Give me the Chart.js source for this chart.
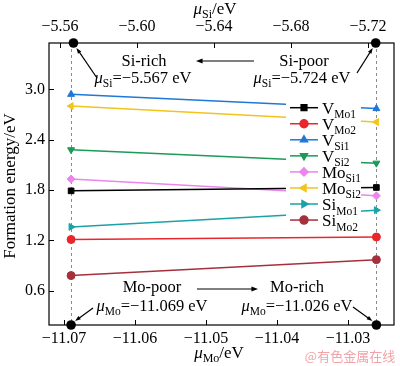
<!DOCTYPE html>
<html>
<head>
<meta charset="utf-8">
<script src="https://cdn.jsdelivr.net/npm/chart.js@4.4.0/dist/chart.umd.min.js"></script>
<style>
  html, body { margin: 0; padding: 0; background: #fff; }
  canvas { display: block; }
</style>
</head>
<body>
<canvas id="feChart" width="400" height="366"></canvas>
<script>
// chemical potential limits (x positions of both end points)
const muMo = [-11.069, -11.026];
const muSi = [-5.567, -5.724];

// formation energies, left end (Mo-poor / Si-rich) -> right end (Mo-rich / Si-poor)
const vMo1 = [1.79, 1.83];
const vMo2 = [1.21, 1.24];
const vSi1 = [2.94, 2.77];
const vSi2 = [2.28, 2.12];
const moSi1 = [1.93, 1.73];
const moSi2 = [2.80, 2.61];
const siMo1 = [1.36, 1.56];
const siMo2 = [0.78, 0.97];

// tick labels
const xTicks = [-11.07, -11.06, -11.05, -11.04, -11.03];
const topTicks = [-5.56, -5.60, -5.64, -5.68, -5.72];
const yTicks = [0.6, 1.2, 1.8, 2.4, 3.0];

const SERIF = '"Liberation Serif", "DejaVu Serif", serif';

const seriesDefs = [
    { data: vMo1,  name: ['V', 'Mo1'],  color: '#000000', style: 'rect',     rot: 0 },
    { data: vMo2,  name: ['V', 'Mo2'],  color: '#e8262b', style: 'circle',   rot: 0 },
    { data: vSi1,  name: ['V', 'Si1'],  color: '#1f78d8', style: 'triangle', rot: 0 },
    { data: vSi2,  name: ['V', 'Si2'],  color: '#1c9a58', style: 'triangle', rot: 180 },
    { data: moSi1, name: ['Mo', 'Si1'], color: '#ea86ec', style: 'rectRot',  rot: 0 },
    { data: moSi2, name: ['Mo', 'Si2'], color: '#f3c41a', style: 'triangle', rot: -90 },
    { data: siMo1, name: ['Si', 'Mo1'], color: '#1aa2a6', style: 'triangle', rot: 90 },
    { data: siMo2, name: ['Si', 'Mo2'], color: '#a5303c', style: 'circle',   rot: 0 }
];

const datasets = seriesDefs.map(s => ({
    label: s.name.join('_'),
    data: s.data.map((v, i) => ({ x: muMo[i], y: v })),
    borderColor: s.color,
    backgroundColor: s.color,
    borderWidth: 1.5,
    pointStyle: s.style,
    pointRotation: s.rot,
    pointRadius: 4,
    pointBorderWidth: 1,
    tension: 0
}));

/**
 * Draw a run of text pieces: [text, size, italic, dy]
 */
function drawRich(ctx, parts, x, y, align) {
    let total = 0;
    parts.forEach(p => {
        ctx.font = (p[2] ? 'italic ' : '') + p[1] + 'px ' + SERIF;
        total += ctx.measureText(p[0]).width;
    });
    let cx = align === 'center' ? x - total / 2 : (align === 'right' ? x - total : x);
    ctx.textAlign = 'left';
    ctx.textBaseline = 'alphabetic';
    parts.forEach(p => {
        ctx.font = (p[2] ? 'italic ' : '') + p[1] + 'px ' + SERIF;
        ctx.fillText(p[0], cx, y + (p[3] || 0));
        cx += ctx.measureText(p[0]).width;
    });
}

function arrow(ctx, x0, y0, x1, y1, head) {
    const a = Math.atan2(y1 - y0, x1 - x0);
    ctx.beginPath();
    ctx.moveTo(x0, y0);
    ctx.lineTo(x1 - Math.cos(a) * head * 0.8, y1 - Math.sin(a) * head * 0.8);
    ctx.stroke();
    ctx.beginPath();
    ctx.moveTo(x1, y1);
    ctx.lineTo(x1 - head * Math.cos(a - 0.35), y1 - head * Math.sin(a - 0.35));
    ctx.lineTo(x1 - head * Math.cos(a + 0.35), y1 - head * Math.sin(a + 0.35));
    ctx.closePath();
    ctx.fill();
}

const decoPlugin = {
    id: 'deco',
    beforeDatasetsDraw(chart) {
        const ctx = chart.ctx;
        const a = chart.chartArea;
        const xs = chart.scales.x;
        ctx.save();
        ctx.strokeStyle = '#8a8a8a';
        ctx.lineWidth = 1;
        ctx.setLineDash([3, 3]);
        muMo.forEach(v => {
            const px = Math.round(xs.getPixelForValue(v)) + 0.5;
            ctx.beginPath();
            ctx.moveTo(px, a.top);
            ctx.lineTo(px, a.bottom);
            ctx.stroke();
        });
        ctx.restore();
    },
    afterDatasetsDraw(chart) {
        const ctx = chart.ctx;
        const a = chart.chartArea;
        const xs = chart.scales.x;
        const xt = chart.scales.x2;
        const ys = chart.scales.y;
        ctx.save();

        // legend box
        ctx.fillStyle = '#ffffff';
        ctx.fillRect(286, 99, 75, 130);
        seriesDefs.forEach((s, i) => {
            const ly = 107.7 + i * 16.05;
            ctx.strokeStyle = s.color;
            ctx.fillStyle = s.color;
            ctx.lineWidth = 1.5;
            ctx.beginPath();
            ctx.moveTo(290, ly);
            ctx.lineTo(318, ly);
            ctx.stroke();
            Chart.helpers.drawPoint(ctx, { pointStyle: s.style, radius: 4, rotation: s.rot, borderWidth: 1 }, 304, ly);
            ctx.fillStyle = '#000';
            drawRich(ctx, [[s.name[0], 17, false, 0], [s.name[1], 11.5, false, 4.5]], 322, ly + 6, 'left');
        });

        // frame
        ctx.strokeStyle = '#000';
        ctx.lineWidth = 1.2;
        ctx.strokeRect(a.left, a.top, a.right - a.left, a.bottom - a.top);

        // inward ticks
        ctx.lineWidth = 1;
        ctx.beginPath();
        xTicks.forEach(v => {
            const px = Math.round(xs.getPixelForValue(v)) + 0.5;
            ctx.moveTo(px, a.bottom); ctx.lineTo(px, a.bottom - 5);
        });
        topTicks.forEach(v => {
            const px = Math.round(xt.getPixelForValue(v)) + 0.5;
            ctx.moveTo(px, a.top); ctx.lineTo(px, a.top + 5);
        });
        yTicks.forEach(v => {
            const py = Math.round(ys.getPixelForValue(v)) + 0.5;
            ctx.moveTo(a.left, py); ctx.lineTo(a.left + 5, py);
        });
        ctx.stroke();

        // limit dots
        ctx.fillStyle = '#000';
        const dots = [
            [xt.getPixelForValue(muSi[0]), a.top],
            [xt.getPixelForValue(muSi[1]), a.top],
            [xs.getPixelForValue(muMo[0]), a.bottom],
            [xs.getPixelForValue(muMo[1]), a.bottom]
        ];
        dots.forEach(d => {
            ctx.beginPath();
            ctx.arc(d[0], d[1], 4.8, 0, Math.PI * 2);
            ctx.fill();
        });

        // annotations
        ctx.fillStyle = '#000';
        drawRich(ctx, [['Si-rich', 16.5, false, 0]], 144, 66, 'center');
        drawRich(ctx, [['Si-poor', 16.5, false, 0]], 304, 66, 'center');
        drawRich(ctx, [['\u03bc', 16.5, true, 0], ['Si', 11.5, false, 4], ['=\u22125.567 eV', 16.5, false, 0]], 143, 83, 'center');
        drawRich(ctx, [['\u03bc', 16.5, true, 0], ['Si', 11.5, false, 4], ['=\u22125.724 eV', 16.5, false, 0]], 302, 83, 'center');
        drawRich(ctx, [['Mo-poor', 16.5, false, 0]], 152, 292, 'center');
        drawRich(ctx, [['Mo-rich', 16.5, false, 0]], 297, 292, 'center');
        drawRich(ctx, [['\u03bc', 16.5, true, 0], ['Mo', 11.5, false, 4], ['=\u221211.069 eV', 16.5, false, 0]], 152, 311, 'center');
        drawRich(ctx, [['\u03bc', 16.5, true, 0], ['Mo', 11.5, false, 4], ['=\u221211.026 eV', 16.5, false, 0]], 297, 311, 'center');

        ctx.strokeStyle = '#000';
        ctx.lineWidth = 1.2;
        arrow(ctx, 254, 61, 196, 61, 7);
        arrow(ctx, 197, 289, 258, 289, 7);
        arrow(ctx, 97, 78, dots[0][0] + 3, dots[0][1] + 5, 6);
        arrow(ctx, 357, 73, dots[1][0] - 3, dots[1][1] + 5, 6);
        arrow(ctx, 93, 308, dots[2][0] + 4, dots[2][1] - 4, 6);
        arrow(ctx, 353, 307, dots[3][0] - 4, dots[3][1] - 4, 6);

        // axis titles
        drawRich(ctx, [['\u03bc', 17, true, 0], ['Si', 12, false, 4], ['/eV', 17, false, 0]], 215, 14, 'center');
        drawRich(ctx, [['\u03bc', 17, true, 0], ['Mo', 12, false, 4], ['/eV', 17, false, 0]], 219, 358, 'center');
        ctx.save();
        ctx.translate(15, 186);
        ctx.rotate(-Math.PI / 2);
        drawRich(ctx, [['Formation energy/eV', 17, false, 0]], 0, 0, 'center');
        ctx.restore();

        // watermark
        ctx.fillStyle = '#f2a3a8';
        ctx.font = '13px "Noto Sans CJK SC", sans-serif';
        ctx.textAlign = 'center';
        ctx.textBaseline = 'middle';
        ctx.fillText('@有色金属在线', 350, 356);

        ctx.restore();
    }
};

function fixedTicks(values) {
    return scale => { scale.ticks = values.map(v => ({ value: v })); };
}

const tickFont = { family: SERIF, size: 16 };

new Chart(document.getElementById('feChart'), {
    type: 'line',
    data: { datasets: datasets },
    options: {
        responsive: false,
        devicePixelRatio: 1,
        animation: false,
        layout: { padding: { left: 0, right: 6, top: 0, bottom: 0 } },
        plugins: { legend: { display: false }, tooltip: { enabled: false } },
        scales: {
            x: {
                type: 'linear',
                position: 'bottom',
                min: -11.07211,
                max: -11.02352,
                afterBuildTicks: fixedTicks(xTicks),
                afterFit: s => { s.height = 41; },
                grid: { display: false, drawTicks: false },
                border: { display: false },
                ticks: {
                    font: tickFont, color: '#000', padding: 4, maxRotation: 0,
                    callback: v => v.toFixed(2).replace('-', '\u2212')
                }
            },
            x2: {
                type: 'linear',
                position: 'top',
                reverse: true,
                min: -5.7335,
                max: -5.5543,
                afterBuildTicks: fixedTicks(topTicks),
                afterFit: s => { s.height = 43; },
                grid: { display: false, drawTicks: false },
                border: { display: false },
                ticks: {
                    font: tickFont, color: '#000', padding: 7, maxRotation: 0,
                    callback: v => v.toFixed(2).replace('-', '\u2212')
                }
            },
            y: {
                type: 'linear',
                min: 0.191,
                max: 3.552,
                afterBuildTicks: fixedTicks(yTicks),
                afterFit: s => { s.width = 49; },
                grid: { display: false, drawTicks: false },
                border: { display: false },
                ticks: {
                    font: tickFont, color: '#000', padding: 4,
                    callback: v => v.toFixed(1)
                }
            }
        }
    },
    plugins: [decoPlugin]
});
</script>
</body>
</html>
